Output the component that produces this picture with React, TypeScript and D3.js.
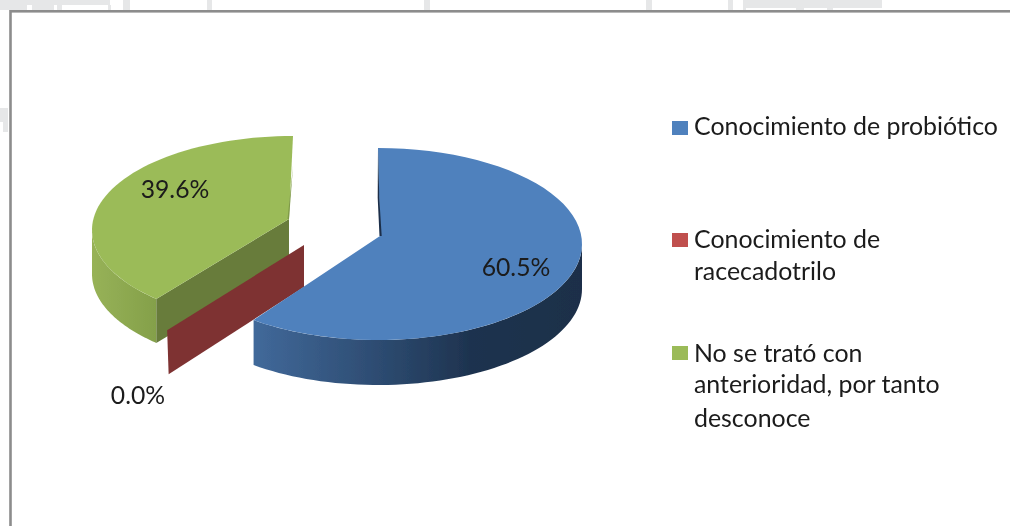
import React from "react";
import * as d3 from "d3";

const categories = ["Conocimiento de probiótico", "Conocimiento de racecadotrilo", "No se trató con anterioridad, por tanto desconoce"];
const values = [60.5, 0.0, 39.6];
const valueLabels = ["60.5%", "0.0%", "39.6%"];
const legendLines = [["Conocimiento de probiótico"], ["Conocimiento de", "racecadotrilo"], ["No se trató con", "anterioridad, por tanto", "desconoce"]];
const faces = ["#4f81bd", "#c0504d", "#9bbb59"];

const FONT = "Lato, 'Open Sans', sans-serif";
const DEPTH = 44;

type View = { cx: number; cy: number; rx: number; ry: number; ax: number; ay: number; fit: number; depth: number };
const blueView: View = { cx: 378, cy: 244, rx: 204, ry: 96, ax: 380, ay: 236, fit: 1, depth: 45 };
const greenView: View = { cx: 293, cy: 230, rx: 201, ry: 94, ax: 289, ay: 219, fit: 0.963, depth: 44 };

const pieLayout = d3.pie<number>().sort(null)(values);
const line = d3.line();

// Position on the tilted rim for a clockwise-from-top angle
const rim = (v: View, a: number): [number, number] => [v.cx + v.rx * Math.sin(a), v.cy - v.ry * Math.cos(a)];
const sweep = (a0: number, a1: number) => d3.range(0, 61).map((i) => a0 + ((a1 - a0) * i) / 60);

function facePath(v: View, a0: number, a1: number) {
  return line([[v.ax, v.ay], ...sweep(a0, a1).map((a) => rim(v, a))]) + "Z";
}
function wallPath(v: View, a0: number, a1: number) {
  const top = sweep(a0, a1).map((a) => rim(v, a));
  const bottom = top.map(([x, y]) => [x, y + v.depth] as [number, number]).reverse();
  return line([...top, ...bottom]) + "Z";
}

const ghostRects = [
  [0, 0, 110, 5], [0, 5, 27, 5], [32, 5, 22, 5], [57, 5, 5, 5], [108, 5, 3, 5],
  [123, 0, 7, 10], [207, 0, 5, 10], [424, 0, 6, 10], [646, 0, 6, 10], [728, 0, 5, 10],
  [743, 0, 139, 8], [743, 8, 3, 2], [796, 8, 8, 2], [827, 8, 6, 2], [0, 108, 8, 14], [3, 122, 5, 10],
];

export default function App() {
  const blue = pieLayout[0];
  const red = pieLayout[1];
  const green = pieLayout[2];
  const TAU = 2 * Math.PI;

  const bA0 = blue.startAngle;
  const bA1 = blue.endAngle;
  const gA1 = green.endAngle;
  const gA0 = gA1 - (green.endAngle - green.startAngle) * greenView.fit;

  const blueStart = rim(blueView, bA0);
  const blueEnd = rim(blueView, bA1);
  const gCorner = rim(greenView, gA0);
  const gTop = rim(greenView, gA1);
  const redAngle = red.startAngle;

  // Zero-size slice: only its cut wall shows, along the radius of its angle
  const rx = blueView.rx * Math.sin(redAngle);
  const ry = -blueView.ry * Math.cos(redAngle);
  const redTop: [number, number] = [304, 245];
  const redOuter: [number, number] = [redTop[0] + rx * 1.1, redTop[1] + ry * 1.12];
  const redPts: [number, number][] = [redTop, [redTop[0], redTop[1] + 42], [redOuter[0] + 1.5, redOuter[1] + DEPTH], redOuter];

  const greenCut: [number, number][] = [
    [greenView.ax, greenView.ay],
    gCorner,
    [gCorner[0], gCorner[1] + greenView.depth],
    [greenView.ax, greenView.ay + greenView.depth],
  ];
  const greenInner: [number, number][] = [
    [gTop[0], gTop[1] + 30],
    [greenView.ax, greenView.ay],
    [greenView.ax - 1.5, greenView.ay],
  ];
  const blueInner: [number, number][] = [
    blueStart,
    [blueStart[0] + 1.3, blueStart[1] + 50],
    [blueView.ax + 1.7, blueView.ay],
    [blueView.ax - 0.5, blueView.ay],
    [blueStart[0] - 0.3, blueStart[1] + 50],
  ];

  return (
    <svg width={1010} height={526} viewBox="0 0 1010 526" style={{ position: "absolute", left: 0, top: 0, display: "block", background: "#fff" }}>
      <defs>
        <linearGradient id="blueWall" gradientUnits="userSpaceOnUse" x1={blueEnd[0]} x2={blueView.cx + blueView.rx} y1={0} y2={0}>
          <stop offset="0" stopColor="#41699a" />
          <stop offset="0.4" stopColor="#2c4a6f" />
          <stop offset="0.66" stopColor="#1e334f" />
          <stop offset="1" stopColor="#1c2f49" />
        </linearGradient>
        <linearGradient id="greenWall" gradientUnits="userSpaceOnUse" x1={greenView.cx - greenView.rx} x2={gCorner[0]} y1={0} y2={0}>
          <stop offset="0" stopColor="#97b257" />
          <stop offset="1" stopColor="#84a04a" />
        </linearGradient>
        <filter id="soft" x="-5%" y="-5%" width="110%" height="110%">
          <feGaussianBlur stdDeviation="0.55" />
        </filter>
        <filter id="softText" x="-5%" y="-5%" width="110%" height="110%">
          <feGaussianBlur stdDeviation="0.3" />
        </filter>
      </defs>

      <g fill="#e6e7e8">
        {ghostRects.map(([x, y, w, h], i) => (
          <rect key={i} x={x} y={y} width={w} height={h} />
        ))}
      </g>
      <rect x={10.5} y={11.3} width={1010} height={530} fill="#fff" stroke="#8c8c8c" strokeWidth={2.6} />

      <g filter="url(#soft)">
        <path d={wallPath(greenView, (TAU * 3) / 4, gA0)} fill="url(#greenWall)" />
        <path d={line(greenCut) + "Z"} fill="#687c3a" />
        <path d={facePath(greenView, gA0, gA1)} fill={faces[2]} />
        <path d={line(greenInner) + "Z"} fill="#7f9a48" />

        <path d={line(redPts) + "Z"} fill="#7e3232" />

        <path d={wallPath(blueView, TAU / 4, bA1)} fill="url(#blueWall)" />
        <path d={facePath(blueView, bA0, bA1)} fill={faces[0]} />
        <path d={line(blueInner) + "Z"} fill="#1c2f49" />
      </g>

      <g filter="url(#softText)">
        <g fontFamily={FONT} fontSize={24.7} fill="#1a1a1a" textAnchor="middle">
          <text x={516} y={276}>{valueLabels[0]}</text>
          <text x={138} y={404}>{valueLabels[1]}</text>
          <text x={175} y={198}>{valueLabels[2]}</text>
        </g>

        {categories.map((c, i) => {
          const swatchY = [121, 233, 346][i];
          const baselines = [[135], [248, 280], [362, 393, 427]][i];
          return (
            <g key={c}>
              <rect x={672} y={swatchY} width={16} height={14} fill={faces[i]} />
              {legendLines[i].map((t, j) => (
                <text key={t} x={694} y={baselines[j]} fontFamily={FONT} fontSize={24.9} fill="#1a1a1a">{t}</text>
              ))}
            </g>
          );
        })}
      </g>
    </svg>
  );
}
